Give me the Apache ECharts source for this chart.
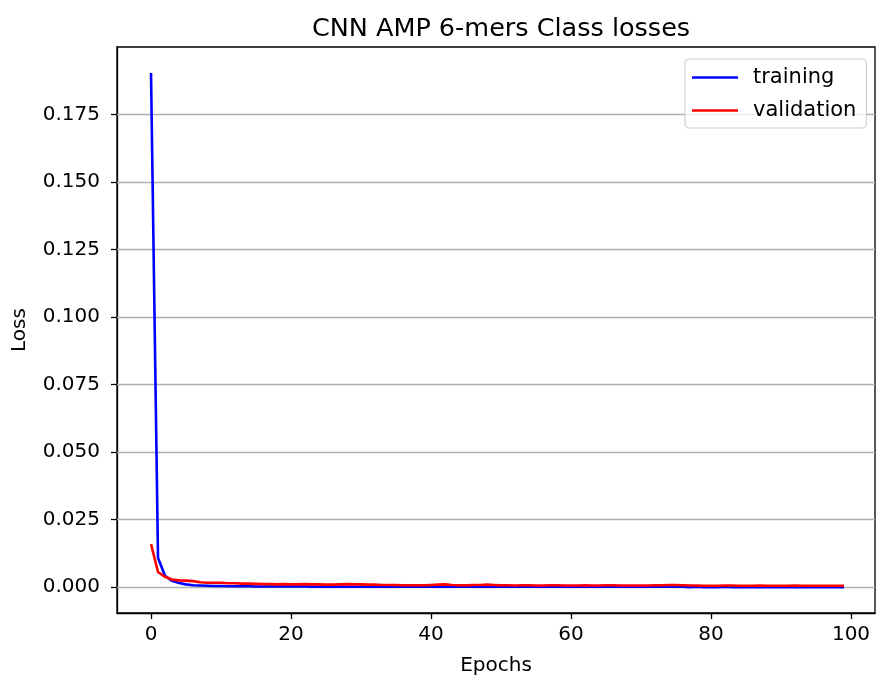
<!DOCTYPE html>
<html>
<head>
<meta charset="utf-8">
<script src="https://cdn.jsdelivr.net/npm/echarts@6/dist/echarts.min.js"></script>
<style>
  html, body { margin: 0; padding: 0; background: #fff; }
  #chart { width: 877px; height: 681px; }
</style>
</head>
<body>
<div id="chart"></div>
<script>
// Per-epoch class loss for the 6-mer CNN AMP model
const trainingLoss = [
  0.1905, 0.0108, 0.0042, 0.0023, 0.0015, 0.0010, 0.0007, 0.0006, 0.0005, 0.0004,
  0.0004, 0.0003, 0.0003, 0.0003, 0.0003, 0.0002, 0.0002, 0.0002, 0.0002, 0.0002,
  0.0002, 0.0002, 0.0002, 0.0001, 0.0002, 0.0001, 0.0001, 0.0002, 0.0001, 0.0001,
  0.0001, 0.0001, 0.0002, 0.0001, 0.0001, 0.0001, 0.0001, 0.0001, 0.0001, 0.0001,
  0.0001, 0.0001, 0.0001, 0.0001, 0.0001, 0.0001, 0.0001, 0.0001, 0.0001, 0.0001,
  0.0001, 0.0001, 0.0001, 0.0001, 0.0001, 0.0001, 0.0001, 0.0001, 0.0001, 0.0001,
  0.0001, 0.0001, 0.0001, 0.0001, 0.0001, 0.0001, 0.0001, 0.0001, 0.0001, 0.0001,
  0.0001, 0.0001, 0.0001, 0.0001, 0.0001, 0.0001, 0.0001, 0.0000, 0.0001, 0.0000,
  0.0000, 0.0000, 0.0001, 0.0000, 0.0000, 0.0000, 0.0000, 0.0000, 0.0000, 0.0000,
  0.0000, 0.0000, 0.0000, 0.0000, 0.0000, 0.0000, 0.0000, 0.0000, 0.0000, 0.0000
];
const validationLoss = [
  0.0159, 0.0056, 0.0038, 0.0028, 0.0025, 0.0024, 0.0022, 0.0018, 0.0016, 0.0016,
  0.0016, 0.0014, 0.0014, 0.0013, 0.0013, 0.0012, 0.0011, 0.0011, 0.0010, 0.0011,
  0.0010, 0.0010, 0.0011, 0.0010, 0.0010, 0.0009, 0.0009, 0.0010, 0.0011, 0.0010,
  0.0010, 0.0009, 0.0009, 0.0008, 0.0008, 0.0008, 0.0007, 0.0007, 0.0007, 0.0007,
  0.0008, 0.0009, 0.0010, 0.0008, 0.0007, 0.0007, 0.0008, 0.0008, 0.0009, 0.0008,
  0.0007, 0.0007, 0.0006, 0.0007, 0.0007, 0.0006, 0.0006, 0.0007, 0.0007, 0.0006,
  0.0006, 0.0006, 0.0007, 0.0006, 0.0006, 0.0007, 0.0007, 0.0006, 0.0006, 0.0006,
  0.0006, 0.0006, 0.0007, 0.0007, 0.0008, 0.0008, 0.0007, 0.0006, 0.0006, 0.0005,
  0.0005, 0.0005, 0.0006, 0.0006, 0.0005, 0.0005, 0.0005, 0.0006, 0.0005, 0.0005,
  0.0005, 0.0005, 0.0006, 0.0005, 0.0005, 0.0005, 0.0005, 0.0005, 0.0005, 0.0005
];
const epochs = trainingLoss.map((_, i) => i);

const xTicks = [0, 20, 40, 60, 80, 100];
const yTicks = [0, 0.025, 0.05, 0.075, 0.1, 0.125, 0.15, 0.175];

const FONT = 'DejaVu Sans';
const chart = echarts.init(document.getElementById('chart'), null, { renderer: 'canvas' });

const pairs = arr => arr.map((v, i) => [epochs[i], v]);
// flat line used as the legend handle
const LINE_ICON = 'path://M0,0H46V2.6H0Z';

chart.setOption({
  animation: false,
  backgroundColor: '#fff',
  textStyle: { fontFamily: FONT },
  title: {
    text: 'CNN AMP 6-mers Class losses',
    left: 496,
    top: 11,
    textAlign: 'center',
    textStyle: { fontFamily: FONT, fontSize: 25.5, fontWeight: 'normal', color: '#000' }
  },
  grid: {
    left: 117, top: 47, right: 2, bottom: 66,
    show: true, borderColor: '#000', borderWidth: 1.3, backgroundColor: 'transparent'
  },
  legend: {
    orient: 'vertical',
    left: 685, top: 59,
    padding: [8, 10, 7, 7],
    itemWidth: 46, itemHeight: 18, itemGap: 12,
    symbolKeepAspect: true,
    backgroundColor: 'rgba(255,255,255,0.8)',
    borderColor: '#d0d0d0', borderWidth: 1.2, borderRadius: 4,
    textStyle: { fontFamily: FONT, fontSize: 21, color: '#000', padding: [0, 0, 0, 10] },
    data: [
      { name: 'training', icon: LINE_ICON },
      { name: 'validation', icon: LINE_ICON }
    ]
  },
  xAxis: {
    type: 'value',
    min: -4.86, max: 103.43,
    name: 'Epochs', nameLocation: 'middle', nameGap: 43,
    nameTextStyle: { fontFamily: FONT, fontSize: 20, color: '#000' },
    axisLine: { show: true, onZero: false, lineStyle: { color: '#000', width: 1.3 } },
    axisTick: { show: true, inside: false, length: 6, customValues: xTicks, lineStyle: { color: '#000', width: 1.3 } },
    axisLabel: { customValues: xTicks, margin: 12, fontFamily: FONT, fontSize: 20, color: '#000', formatter: v => String(v) },
    splitLine: { show: false }
  },
  yAxis: {
    type: 'value',
    min: -0.0096, max: 0.2001,
    name: 'Loss', nameLocation: 'middle', nameGap: 87, nameRotate: 90,
    nameTextStyle: { fontFamily: FONT, fontSize: 20, color: '#000' },
    axisLine: { show: true, onZero: false, lineStyle: { color: '#000', width: 1.3 } },
    axisTick: { show: true, inside: false, length: 6, customValues: yTicks, lineStyle: { color: '#000', width: 1.3 } },
    axisLabel: { customValues: yTicks, margin: 17, fontFamily: FONT, fontSize: 20, color: '#000', formatter: v => v.toFixed(3) },
    splitLine: { show: false }
  },
  series: [
    {
      name: 'training', type: 'line', symbol: 'none', data: pairs(trainingLoss),
      lineStyle: { color: '#0000ff', width: 2.6 }, itemStyle: { color: '#0000ff' }, z: 3,
      // horizontal grid lines at the y tick values
      markLine: {
        silent: true, symbol: 'none', label: { show: false }, animation: false,
        precision: 4,
        lineStyle: { color: '#b0b0b0', width: 1.3, type: 'solid' },
        z: 1,
        data: yTicks.map(v => ({ yAxis: v }))
      }
    },
    {
      name: 'validation', type: 'line', symbol: 'none', data: pairs(validationLoss),
      lineStyle: { color: '#ff0000', width: 2.6 }, itemStyle: { color: '#ff0000' }, z: 4
    }
  ]
});
</script>
</body>
</html>
